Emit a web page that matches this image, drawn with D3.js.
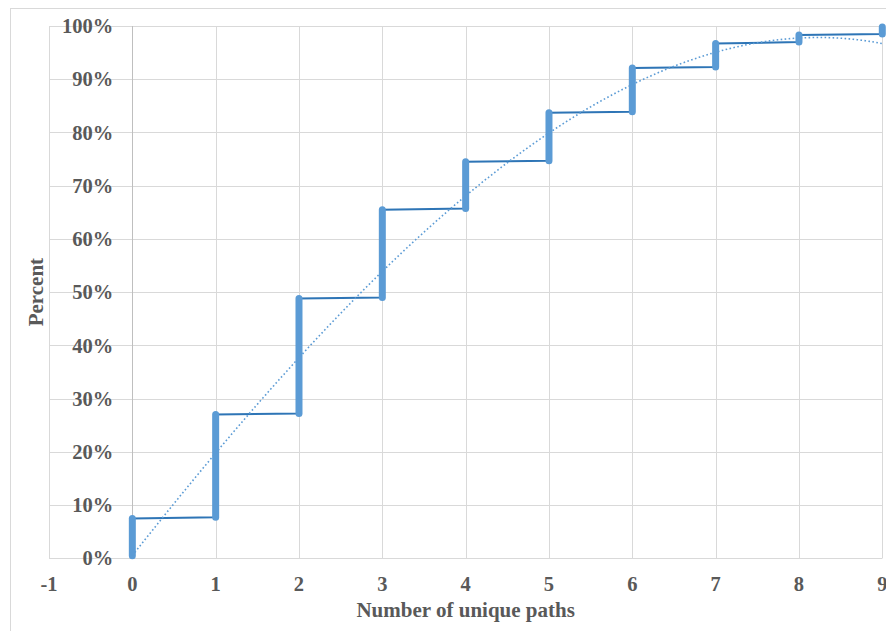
<!DOCTYPE html>
<html>
<head>
<meta charset="utf-8">
<script src="https://cdn.jsdelivr.net/npm/d3@7"></script>
<style>
  html, body { margin: 0; padding: 0; background: #ffffff; }
  svg { display: block; }
  text { font-family: "Liberation Serif", "Times New Roman", serif; font-weight: bold; fill: #595959; }
</style>
</head>
<body>
<svg id="chart" width="886" height="631"></svg>
<script>
// ---- data ----
const xValues    = [0, 1, 2, 3, 4, 5, 6, 7, 8, 9];                 // number of unique paths
const groupStart = [0.5, 7.7, 27.2, 49.0, 65.7, 74.7, 83.9, 92.3, 97.0, 98.5]; // % at first point of group
const groupEnd   = [7.5, 27.0, 48.8, 65.5, 74.5, 83.7, 92.1, 96.7, 98.3, 99.8]; // % at last point of group
const trendCoef  = [0.5, 19.84, -0.511, -0.0562];                 // polynomial trendline a + bx + cx^2 + dx^3
const xTicks     = [-1, 0, 1, 2, 3, 4, 5, 6, 7, 8, 9];
const yTicks     = [0, 10, 20, 30, 40, 50, 60, 70, 80, 90, 100];
const xTitle = "Number of unique paths";
const yTitle = "Percent";

const svg = d3.select("#chart");
const x = d3.scaleLinear().domain([-1, 9]).range([49, 882.3]);
const y = d3.scaleLinear().domain([0, 100]).range([558.3, 26]);

// chart border
svg.append("rect").attr("x", 10.5).attr("y", 8.5).attr("width", 900).attr("height", 700)
  .attr("fill", "none").attr("stroke", "#d9d9d9").attr("stroke-width", 1);

// gridlines
const g = svg.append("g");
g.selectAll("line.h").data(yTicks).join("line")
  .attr("x1", x(-1)).attr("x2", x(9))
  .attr("y1", d => Math.round(y(d)) + 0.5).attr("y2", d => Math.round(y(d)) + 0.5)
  .attr("stroke", "#d9d9d9").attr("stroke-width", 1);
g.selectAll("line.v").data(xTicks).join("line")
  .attr("y1", y(0)).attr("y2", y(100))
  .attr("x1", d => Math.round(x(d)) + 0.5).attr("x2", d => Math.round(x(d)) + 0.5)
  .attr("stroke", d => d === 0 ? "#bfbfbf" : "#d9d9d9").attr("stroke-width", 1);

// y tick labels
svg.append("g").selectAll("text").data(yTicks).join("text")
  .attr("x", x(0) - 19).attr("y", d => y(d))
  .attr("dy", "0.35em").attr("text-anchor", "end")
  .style("font-size", "20.5px")
  .text(d => d + "%");

// x tick labels
svg.append("g").selectAll("text").data(xTicks).join("text")
  .attr("x", d => x(d)).attr("y", 591)
  .attr("text-anchor", "middle")
  .style("font-size", "20.5px")
  .text(d => d);

// axis titles
svg.append("text").attr("x", (x(-1) + x(9)) / 2).attr("y", 617)
  .attr("text-anchor", "middle").style("font-size", "21px").text(xTitle);
svg.append("text").attr("transform", `translate(43,${(y(0) + y(100)) / 2}) rotate(-90)`)
  .attr("text-anchor", "middle").style("font-size", "21px").text(yTitle);

// connecting line through all groups
const pts = [];
xValues.forEach((v, i) => { pts.push([v, groupStart[i]]); pts.push([v, groupEnd[i]]); });
svg.append("path").datum(pts)
  .attr("d", d3.line().x(d => x(d[0])).y(d => y(d[1])))
  .attr("fill", "none").attr("stroke", "#2E75B6").attr("stroke-width", 2);

// markers (stacked points at each x drawn as a thick rounded bar)
svg.append("g").selectAll("line").data(xValues).join("line")
  .attr("x1", d => x(d)).attr("x2", d => x(d))
  .attr("y1", (d, i) => y(groupStart[i])).attr("y2", (d, i) => y(groupEnd[i]))
  .attr("stroke", "#5B9BD5").attr("stroke-width", 7).attr("stroke-linecap", "round");

// polynomial trendline (dotted)
const poly = t => trendCoef.reduce((s, c, k) => s + c * Math.pow(t, k), 0);
const tx = d3.range(0, 9.0001, 0.05);
svg.append("path").datum(tx)
  .attr("d", d3.line().x(t => x(t)).y(t => y(poly(t))))
  .attr("fill", "none").attr("stroke", "#5B9BD5").attr("stroke-width", 1.6)
  .attr("stroke-dasharray", "1.6 2.4");
</script>
</body>
</html>
